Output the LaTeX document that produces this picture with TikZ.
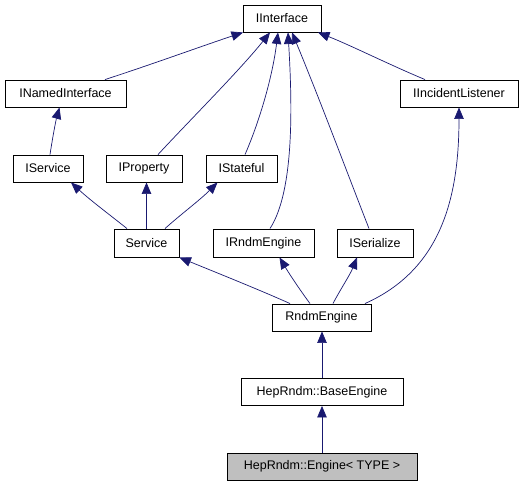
\documentclass[tikz,border=0pt]{standalone}
\usepackage{fontspec}
\setmainfont{Liberation Sans}
\usetikzlibrary{arrows.meta}
\definecolor{edgec}{HTML}{191970}
\definecolor{hilite}{HTML}{BFBFBF}
\begin{document}
\begin{tikzpicture}[x=1pt,y=-1pt,
  cls/.style={draw=black,fill=white,line width=0.9pt,inner sep=0pt,minimum height=27pt,font=\fontsize{12.5}{14}\selectfont},
  inh/.style={draw=edgec,line width=0.7pt,-{Triangle[length=11.5pt,width=9.5pt]},color=edgec}]
\useasboundingbox (0,0) rectangle (528,485);
\node[cls,minimum width=78pt]  (ii)  at (282,18.5) {IInterface};
\node[cls,minimum width=121pt] (ini) at (65.5,93.5) {INamedInterface};
\node[cls,minimum width=118pt] (iil) at (459,93.5) {IIncidentListener};
\node[cls,minimum width=70pt]  (isv) at (48,168.5) {IService};
\node[cls,minimum width=76pt]  (ipr) at (144,168.5) {IProperty};
\node[cls,minimum width=71pt]  (ist) at (241.5,168.5) {IStateful};
\node[cls,minimum width=65pt,minimum height=28pt]  (svc) at (146.5,243) {Service};
\node[cls,minimum width=101pt,minimum height=28pt] (ire) at (263.5,243) {IRndmEngine};
\node[cls,minimum width=76pt,minimum height=28pt]  (ise) at (375,243) {ISerialize};
\node[cls,minimum width=99pt]  (rnd) at (321.5,317.5) {RndmEngine};
\node[cls,minimum width=162pt] (base) at (322,392) {HepRndm::BaseEngine};
\node[cls,minimum width=190pt,fill=hilite] (eng) at (322,466.5) {HepRndm::Engine< TYPE >};

\draw[inh] ([xshift=39.5pt]ini.north) .. controls (150,65) and (205,45) .. ([xshift=-39pt]ii.south);
\draw[inh] ([xshift=14pt]ipr.north) .. controls (190,120) and (240,70) .. ([xshift=-12pt]ii.south);
\draw[inh] ([xshift=3.5pt]ist.north) .. controls (258,125) and (272,80) .. ([xshift=-4pt]ii.south);
\draw[inh] ([xshift=6.5pt]ire.north) .. controls (295,190) and (292,100) .. ([xshift=6pt]ii.south);
\draw[inh] ([xshift=-6pt]ise.north) .. controls (350,180) and (320,100) .. ([xshift=10pt]ii.south);
\draw[inh] ([xshift=-34pt]iil.north) .. controls (390,65) and (350,45) .. ([xshift=36pt]ii.south);
\draw[inh] ([xshift=2pt]isv.north) .. controls (53,135) and (56,120) .. ([xshift=-6pt]ini.south);
\draw[inh] ([xshift=-19.5pt]svc.north) .. controls (110,215) and (90,200) .. ([xshift=23pt]isv.south);
\draw[inh] (svc.north) -- (svc.north |- ipr.south);
\draw[inh] ([xshift=18.5pt]svc.north) .. controls (180,215) and (200,200) .. ([xshift=-24pt]ist.south);
\draw[inh] ([xshift=-31.5pt]rnd.north) .. controls (260,290) and (210,270) .. (svc.south east);
\draw[inh] ([xshift=-11.5pt]rnd.north) .. controls (300,290) and (290,275) .. ([xshift=16pt]ire.south);
\draw[inh] ([xshift=11.5pt]rnd.north) .. controls (340,290) and (350,275) .. ([xshift=-18pt]ise.south);
\draw[inh] ([xshift=43.5pt]rnd.north) .. controls (440,270) and (459,200) .. (iil.south);
\draw[inh] (base.north) -- (rnd.south -| base.north);
\draw[inh] (eng.north) -- (base.south);
\end{tikzpicture}
\end{document}
